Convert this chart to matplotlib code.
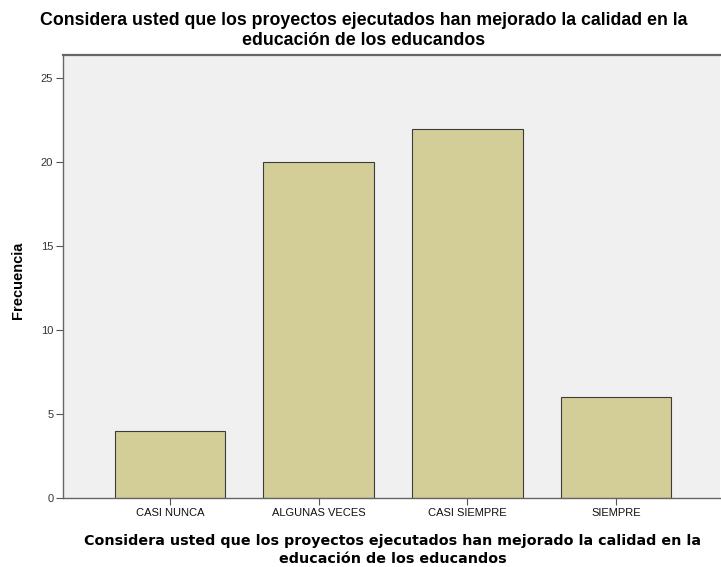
import matplotlib
matplotlib.use("Agg")
import matplotlib.pyplot as plt

categories = ["CASI NUNCA", "ALGUNAS VECES", "CASI SIEMPRE", "SIEMPRE"]
frecuencia = [4, 20, 22, 6]
yticks = [0, 5, 10, 15, 20, 25]
title_lines = ["Considera usted que los proyectos ejecutados han mejorado la calidad en la",
               "educación de los educandos"]

plt.rcParams['font.family'] = ['Liberation Sans', 'DejaVu Sans']

fig = plt.figure(figsize=(7.21, 5.67), dpi=100)
ax = fig.add_axes([63/721, 1-498/567, (720-63)/721, (498-55)/567])
ax.set_facecolor('#F0F0F0')

x = list(range(len(categories)))
ax.bar(x, frecuencia, width=0.746, color='#D3CE98', edgecolor='#3c3c3c', linewidth=0.8, zorder=2)

ax.set_xlim(-0.72, 3.70)
ax.set_ylim(0, 26.4)
ax.set_yticks(yticks)
ax.set_yticklabels([str(v) for v in yticks], fontsize=8, color='#333333')
ax.set_xticks(x)
ax.set_xticklabels(categories, fontsize=8, color='#111111')
ax.tick_params(axis='both', length=5, width=0.8, color='#555555', pad=2)

for s in ['left', 'bottom', 'top']:
    ax.spines[s].set_color('#666666')
    ax.spines[s].set_linewidth(1.0)
ax.spines['top'].set_linewidth(1.6)
ax.spines['right'].set_visible(False)

tfont = dict(family=['Liberation Sans', 'DejaVu Sans'], fontsize=12.8, fontweight='bold', ha='center', va='baseline')
for line, yb in zip(title_lines, [25, 45]):
    fig.text(364/721, 1-yb/567, line, **tfont)
xfont = dict(family=['DejaVu Sans'], fontsize=10.3, fontweight='bold', ha='center', va='baseline')
for line, yb in zip(title_lines, [545, 563]):
    fig.text(393/721, 1-yb/567, line, **xfont)
fig.text(18/721, 1-280/567, "Frecuencia", ha='center', va='center', rotation=90, fontsize=10.5, fontweight='bold')

fig.savefig("out.png", dpi=100)
